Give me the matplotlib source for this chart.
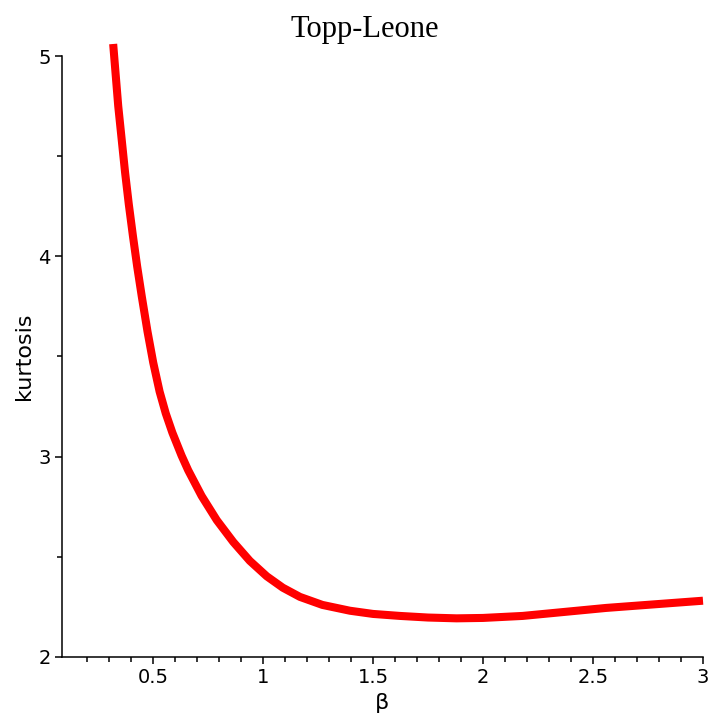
import numpy as np
import matplotlib.pyplot as plt
from matplotlib.ticker import FixedLocator

# values
beta = [0.319, 0.342, 0.358, 0.373, 0.39, 0.409, 0.428, 0.449, 0.475, 0.501,
        0.53, 0.558, 0.588, 0.63, 0.66, 0.721, 0.79, 0.865, 0.94, 1.017,
        1.09, 1.168, 1.27, 1.395, 1.5, 1.623, 1.75, 1.88, 2.0, 2.18,
        2.37, 2.56, 2.78, 3.0]
kurt = [5.06, 4.75, 4.58, 4.42, 4.26, 4.10, 3.95, 3.80, 3.625, 3.47,
        3.325, 3.216, 3.12, 3.005, 2.932, 2.804, 2.683, 2.574, 2.48, 2.403,
        2.346, 2.30, 2.26, 2.231, 2.215, 2.205, 2.197, 2.193, 2.195, 2.205,
        2.225, 2.245, 2.263, 2.281]

xmajor = [0.5, 1, 1.5, 2, 2.5, 3]
xlabels = ["0.5", "1", "1.5", "2", "2.5", "3"]
ymajor = [2, 3, 4, 5]

fig = plt.figure(figsize=(7.10, 7.17), dpi=100)
ax = fig.add_axes([62/710, 60/717, (703-62)/710, (657-56)/717])

ax.plot(beta, kurt, color="#ff0000", lw=5.8, solid_capstyle="butt",
        solid_joinstyle="round", clip_on=False)

ax.set_xlim(0.0864, 3)
ax.set_ylim(2, 5)
for s in ["top", "right"]:
    ax.spines[s].set_visible(False)
for s in ["left", "bottom"]:
    ax.spines[s].set_linewidth(1.1)

ax.xaxis.set_major_locator(FixedLocator(xmajor))
ax.set_xticklabels(xlabels)
ax.xaxis.set_minor_locator(FixedLocator(np.round(np.arange(0.2, 3.0, 0.1), 2)))
ax.yaxis.set_major_locator(FixedLocator(ymajor))
ax.yaxis.set_minor_locator(FixedLocator([2.5, 3.5, 4.5]))
ax.tick_params(which="major", length=5, width=1.1, labelsize=14, pad=3)
ax.tick_params(which="minor", length=3.5, width=1.1)

ax.set_xlabel("β", fontsize=16, labelpad=4)
ax.set_ylabel("kurtosis", fontsize=16, labelpad=3)
fig.text(365/710, 1 - 37/717, "Topp-Leone", fontsize=22, family="Liberation Serif",
         ha="center", va="baseline")

fig.savefig("out.png", dpi=100)
